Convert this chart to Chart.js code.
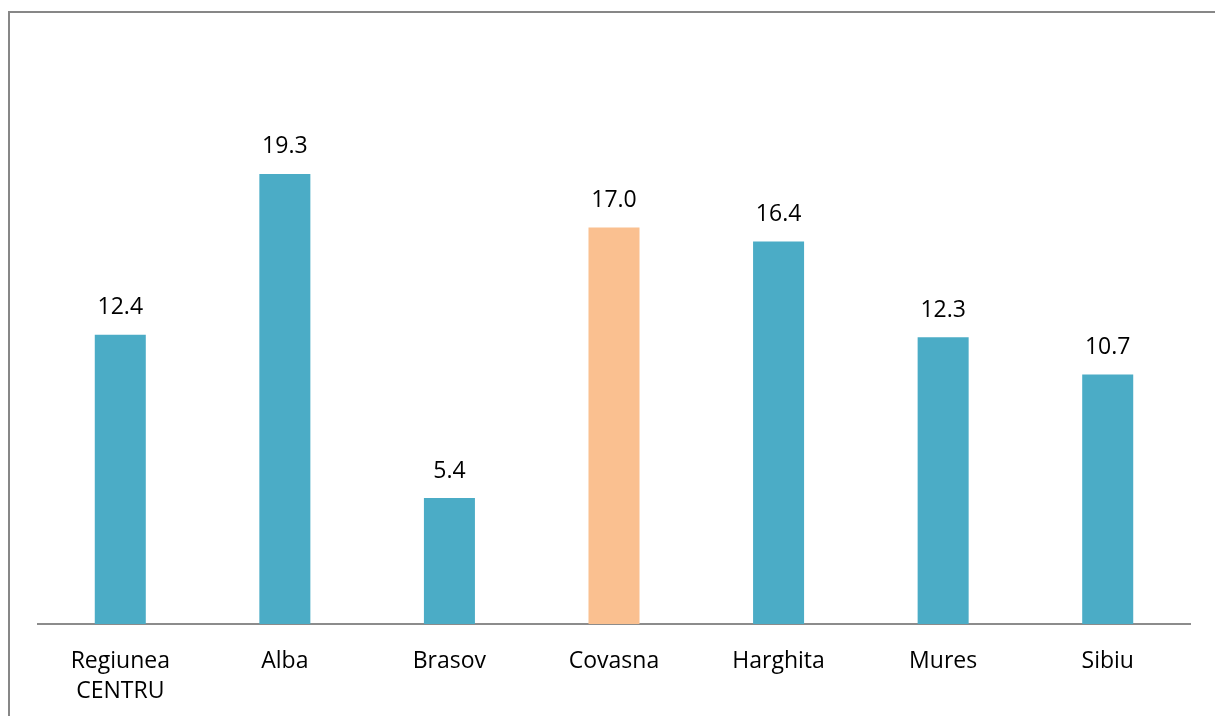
<!DOCTYPE html>
<html>
<head>
<meta charset="utf-8">
<script src="https://cdn.jsdelivr.net/npm/chart.js@4"></script>
<style>
  html, body { margin: 0; padding: 0; background: #fff; overflow: hidden; }
  #frame {
    position: absolute; left: 8px; top: 11px;
    width: 1300px; height: 800px;
    border-left: 2px solid #878787; border-top: 2px solid #878787;
  }
  #wrap { position: absolute; left: 0; top: 0; width: 1215px; height: 716px; }
</style>
</head>
<body>
<div id="frame"></div>
<div id="wrap"><canvas id="bar-chart" width="1215" height="716"></canvas></div>
<script>
const categories = [["Regiunea", "CENTRU"], "Alba", "Brasov", "Covasna", "Harghita", "Mures", "Sibiu"];
const values = [12.4, 19.3, 5.4, 17.0, 16.4, 12.3, 10.7];
const barColors = ["#4BACC6", "#4BACC6", "#4BACC6", "#FAC090", "#4BACC6", "#4BACC6", "#4BACC6"];

const fontFamily = "'Open Sans', sans-serif";

// draws the value above each bar
const valueLabels = {
  id: "valueLabels",
  afterDatasetsDraw(chart) {
    const ctx = chart.ctx;
    const meta = chart.getDatasetMeta(0);
    ctx.save();
    ctx.font = "23px " + fontFamily;
    ctx.fillStyle = "#000";
    ctx.textAlign = "center";
    ctx.textBaseline = "middle";
    meta.data.forEach((bar, i) => {
      ctx.fillText(values[i].toFixed(1), bar.x, bar.y - 27);
    });
    ctx.restore();
  },
};

new Chart(document.getElementById("bar-chart"), {
  type: "bar",
  data: {
    labels: categories,
    datasets: [
      {
        data: values,
        backgroundColor: barColors,
        borderWidth: 0,
        barPercentage: 0.31,
        categoryPercentage: 1,
      },
    ],
  },
  options: {
    responsive: false,
    animation: false,
    layout: { padding: { left: 38, right: 25, top: 41, bottom: 0 } },
    plugins: {
      legend: { display: false },
      tooltip: { enabled: false },
    },
    scales: {
      x: {
        grid: { display: false },
        border: { color: "#8c8c8c", width: 2 },
        ticks: {
          color: "#000",
          font: { family: fontFamily, size: 23, lineHeight: 1.3 },
          padding: 15,
          maxRotation: 0,
        },
        afterFit(scale) {
          scale.height = 92;
        },
      },
      y: {
        display: false,
        min: 0,
        max: 25,
      },
    },
  },
  plugins: [valueLabels],
});
</script>
</body>
</html>
